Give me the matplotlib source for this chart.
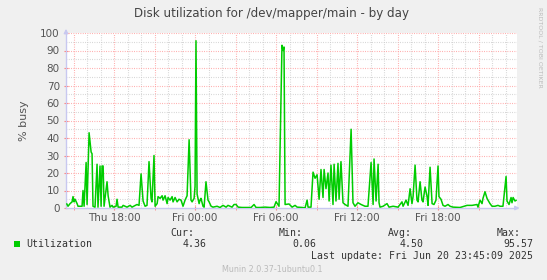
import matplotlib
matplotlib.use('Agg')
import matplotlib.pyplot as plt
from matplotlib.patches import Rectangle

# hours since Thu 00:00 (Fri 00:00 = 24) and % busy
hours = [14.50, 14.59, 14.74, 14.89, 14.96, 15.04, 15.11, 15.26, 15.33, 15.56,
         15.63, 15.70, 15.78, 15.93, 16.00, 16.15, 16.30, 16.37, 16.44, 16.59,
         16.74, 16.81, 16.96, 17.04, 17.11, 17.19, 17.26, 17.48, 17.56, 17.70,
         17.85, 17.93, 18.15, 18.22, 18.30, 18.59, 18.67, 18.96, 19.19, 19.33,
         19.70, 19.85, 20.00, 20.15, 20.30, 20.44, 20.59, 20.74, 20.81, 20.96,
         21.04, 21.19, 21.26, 21.41, 21.56, 21.63, 21.78, 21.93, 22.00, 22.15,
         22.30, 22.37, 22.52, 22.67, 22.81, 22.96, 23.11, 23.26, 23.41, 23.56,
         23.70, 23.78, 23.93, 24.00, 24.07, 24.15, 24.30, 24.37, 24.44, 24.59,
         24.67, 24.81, 24.96, 25.04, 25.19, 25.33, 25.63, 25.85, 26.07, 26.30,
         26.44, 26.74, 26.89, 27.04, 27.19, 27.48, 27.85, 28.15, 28.37, 28.52,
         28.81, 29.19, 29.56, 29.85, 30.00, 30.22, 30.44, 30.52, 30.59, 30.67,
         30.96, 31.19, 31.41, 31.56, 31.93, 32.15, 32.30, 32.37, 32.59, 32.74,
         32.89, 33.04, 33.19, 33.33, 33.48, 33.56, 33.70, 33.85, 33.93, 34.07,
         34.22, 34.30, 34.44, 34.59, 34.67, 34.81, 34.96, 35.11, 35.33, 35.56,
         35.70, 35.85, 36.07, 36.30, 36.59, 36.81, 37.04, 37.19, 37.26, 37.41,
         37.56, 37.63, 37.70, 37.93, 38.22, 38.37, 38.67, 39.04, 39.33, 39.41,
         39.63, 39.78, 39.93, 40.07, 40.15, 40.30, 40.44, 40.52, 40.67, 40.81,
         40.89, 41.04, 41.19, 41.26, 41.41, 41.56, 41.70, 41.85, 42.00, 42.07,
         42.22, 42.37, 42.52, 42.74, 42.89, 43.11, 43.63, 44.15, 44.52, 44.89,
         44.96, 45.11, 45.26, 45.33, 45.48, 45.63, 45.70, 45.85, 46.00, 46.22,
         46.44, 46.59, 46.81, 47.04, 47.11, 47.26, 47.41, 47.48, 47.56, 47.70,
         47.78]
busy = [2.3, 1.0, 2.5, 3.5, 6.5, 3.5, 5.0, 2.5, 1.0, 1.0,
        1.0, 10, 1.0, 26, 2, 43, 32, 31, 1, 0.5,
        25, 0.5, 24, 1, 24, 24, 1, 15, 7, 0.5,
        1.5, 0.5, 1, 5, 0.5, 0.5, 1.5, 0.5, 1.5, 0.5,
        2, 1.5, 19.5, 4, 1, 1.5, 26.5, 5.5, 3.5, 30,
        1, 2.5, 6.5, 5.5, 7, 4.5, 7, 2.5, 6, 4.5,
        6.5, 3.5, 6, 3.5, 5, 4.5, 1, 4.5, 7, 39,
        4.5, 3.5, 5.5, 12.5, 95.57, 8, 2.5, 4.5, 5.5, 1,
        0.5, 15, 4.5, 3.5, 1, 0.5, 1, 0.3, 1.5, 0.5,
        1.5, 0.5, 2, 2, 0.5, 0.3, 0.3, 0.3, 2, 0.3,
        0.3, 0.5, 0.3, 0.5, 3.6, 1, 93, 90, 92, 2,
        2.3, 0.5, 1.5, 0.5, 0.3, 0.06, 4.5, 0.5, 0.5, 20.5,
        17, 19, 5, 22, 6, 22, 11, 20, 4, 24.5,
        2, 25, 4, 25.5, 5, 26.5, 3, 2, 1, 45,
        3, 1, 3, 2, 1, 1, 26, 2, 28, 4,
        25, 3, 0.5, 1, 2.5, 0.5, 1, 0.5, 3.5, 1,
        4.5, 1.5, 11, 2.5, 6.5, 24.5, 4.5, 3.5, 15, 4.5,
        3.5, 12, 6.5, 1.5, 23.3, 2.5, 2, 4.5, 24, 6.5,
        5, 1.5, 1, 2, 1, 0.5, 0.3, 1.5, 1.5, 2,
        0.5, 4.5, 2.5, 5.5, 9.3, 5.5, 4.5, 2.5, 1, 1,
        1.5, 1, 1, 18, 4, 2, 6, 3, 6, 4,
        4.36]

tick_hours = [18, 24, 30, 36, 42]
tick_labels = ["Thu 18:00", "Fri 00:00", "Fri 06:00", "Fri 12:00", "Fri 18:00"]
stat_names = ["Cur:", "Min:", "Avg:", "Max:"]
stat_values = ["4.36", "0.06", "4.50", "95.57"]

W, H = 547, 280
bg = '#F0F0F0'
fig = plt.figure(figsize=(W / 100, H / 100), dpi=100, facecolor=bg)
ax = fig.add_axes([66 / W, 1 - 208 / H, 451 / W, 175 / H])
ax.set_facecolor('white')

ax.set_xlim(14.44, 47.85)
ax.set_ylim(0, 100)

# grid: gray every hour / 5 %, red every 3 hours / 10 %
dots = (0, (0.7, 1.4))
for h in range(15, 48):
    col = '#FF9A9A' if h % 3 == 0 else '#CCCCCC'
    ax.axvline(h, color=col, lw=0.8, ls=dots, zorder=1)
for v in range(5, 101, 5):
    col = '#FF9A9A' if v % 10 == 0 else '#CCCCCC'
    ax.axhline(v, color=col, lw=0.8, ls=dots, zorder=1)

ax.plot(hours, busy, color='#00CC00', lw=1.1, zorder=3)

for s in ['top', 'right']:
    ax.spines[s].set_visible(False)
for s in ['left', 'bottom']:
    ax.spines[s].set_color('#C8C8F0')
    ax.spines[s].set_linewidth(1.0)

ax.set_xticks(tick_hours)
ax.set_xticklabels(tick_labels)
ax.set_xticks([h for h in range(15, 48, 3) if h not in tick_hours], minor=True)
ax.set_yticks(range(0, 101, 10))
ax.tick_params(axis='both', which='major', direction='inout', length=3,
               color='#FF8080', labelcolor='#555555', labelsize=7.5)
ax.tick_params(axis='x', which='major', pad=2)
ax.tick_params(axis='y', which='major', pad=3)
ax.tick_params(axis='x', which='minor', direction='inout', length=3, color='#FF8080')

# axis arrows
ax.annotate('', xy=(0, 1.04), xytext=(0, 0.99), xycoords='axes fraction',
            arrowprops=dict(arrowstyle='-|>', color='#C8C8F0', lw=1, mutation_scale=6),
            annotation_clip=False)
ax.annotate('', xy=(1.012, 0), xytext=(0.99, 0), xycoords='axes fraction',
            arrowprops=dict(arrowstyle='-|>', color='#C8C8F0', lw=1, mutation_scale=6),
            annotation_clip=False)

ax.set_ylabel('% busy', color='#555555', fontsize=8, labelpad=8)

def ftext(x, y, s, **kw):
    fig.text(x / W, 1 - y / H, s, **kw)

ftext(272, 13, 'Disk utilization for /dev/mapper/main - by day', ha='center', va='center',
      fontsize=8.6, color='#444444')
ftext(540, 47, 'RRDTOOL / TOBI OETIKER', ha='center', va='center', rotation=270,
      fontsize=4.5, color='#BBBBBB')

mono = dict(family='DejaVu Sans Mono', fontsize=7.1, color='#333333', va='center')
fig.patches.append(Rectangle((14 / W, 1 - 247 / H), 6 / W, 6 / H, transform=fig.transFigure,
                             facecolor='#00CC00', edgecolor='none'))
ftext(26, 244, 'Utilization', ha='left', **mono)
name_right = [194, 303, 412, 521]
value_right = [207, 316, 424, 533]
for n, v, xn, xv in zip(stat_names, stat_values, name_right, value_right):
    ftext(xn, 233, n, ha='right', **mono)
    ftext(xv, 244, v, ha='right', **mono)
ftext(533, 256, 'Last update: Fri Jun 20 23:45:09 2025', ha='right', **mono)
ftext(272, 269, 'Munin 2.0.37-1ubuntu0.1', ha='center', va='center',
      fontsize=5.8, color='#BBBBBB')

fig.savefig('out.png', dpi=100, facecolor=bg)
